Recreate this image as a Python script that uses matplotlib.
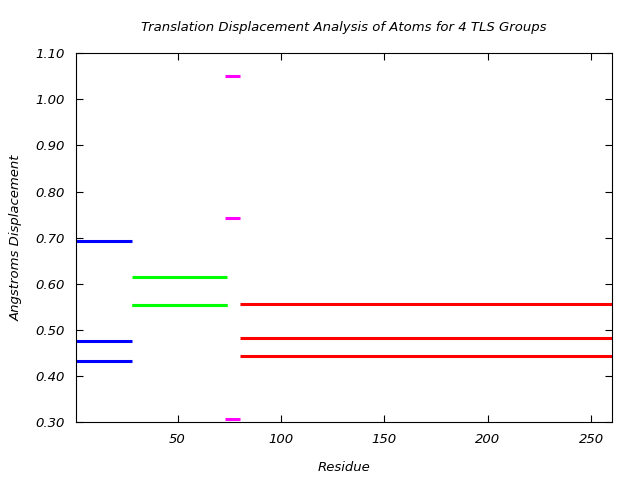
# Translation displacement per TLS group

import matplotlib.pyplot as plt

# TLS group residue ranges (start, end)
group_start = [1, 28, 73, 80]
group_end = [28, 74, 80, 260]
group_colors = ['#0000ff', '#00ff00', '#ff00ff', '#ff0000']

# Displacements (Angstroms) of the three principal axes per group
disp_1 = [0.692, 0.614, 1.050, 0.556]
disp_2 = [0.475, 0.553, 0.742, 0.482]
disp_3 = [0.432, 0.553, 0.306, 0.443]

x_ticks = [50, 100, 150, 200, 250]
y_ticks = [0.30, 0.40, 0.50, 0.60, 0.70, 0.80, 0.90, 1.00, 1.10]

fig = plt.figure(figsize=(6.4, 4.8), dpi=100)
ax = fig.add_axes([0.119, 0.121, 0.837, 0.768])

for i in range(len(group_start)):
    for d in (disp_1[i], disp_2[i], disp_3[i]):
        ax.hlines(d, group_start[i], group_end[i], color=group_colors[i], linewidth=2.2)

ax.set_xlim(1, 260)
ax.set_ylim(0.30, 1.10)
ax.set_xticks(x_ticks)
ax.set_yticks(y_ticks)
ax.set_yticklabels([f'{v:.2f}' for v in y_ticks])

# gnuplot look: inward ticks on all four sides, italic text
ax.tick_params(axis='both', direction='in', top=True, right=True, length=5,
               labelsize=9.5, pad=8)
for lbl in ax.get_xticklabels() + ax.get_yticklabels():
    lbl.set_fontstyle('italic')

ax.set_xlabel('Residue', fontsize=9.5, style='italic', labelpad=11)
ax.set_ylabel('Angstroms Displacement', fontsize=9.5, style='italic', labelpad=9)
ax.set_title('Translation Displacement Analysis of Atoms for 4 TLS Groups',
             fontsize=9.5, style='italic', pad=16)

plt.savefig('out.png')
